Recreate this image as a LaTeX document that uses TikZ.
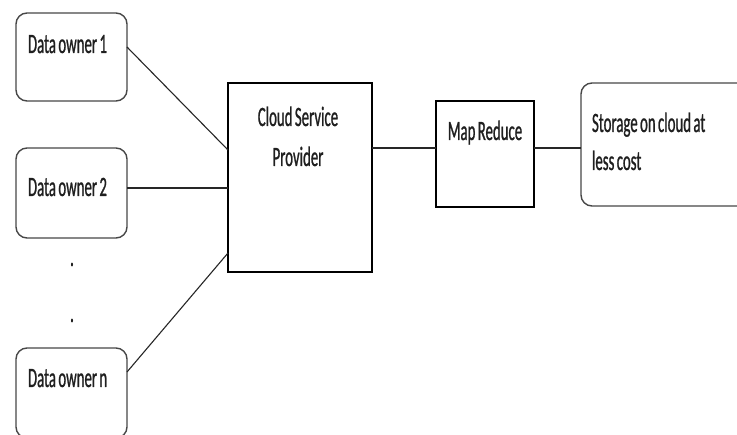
\documentclass[tikz,border=0pt]{standalone}
\usepackage{fontspec}
\newfontfamily\calfont[FakeStretch=0.53,WordSpace=0.7,FakeBold=0.8]{Carlito}
\begin{document}
\begin{tikzpicture}[x=1pt,y=-1pt,
  rbox/.style={draw=black!72, line width=1.4pt, rounded corners=11pt, fill=white, inner sep=0pt, outer sep=0pt},
  sbox/.style={draw=black, line width=1.2pt, fill=white, inner sep=0pt, outer sep=0pt},
  txt/.style={inner sep=0pt, outer sep=0pt, text=black!88, font=\calfont\fontsize{28}{40}\selectfont},
  conn/.style={draw=black!85, line width=1.1pt}]
\fill[white] (0,0) rectangle (737,435);
\useasboundingbox (0,0) rectangle (737,435);
\clip (0,0) rectangle (737,435);

% boxes
\node[rbox, minimum width=111pt, minimum height=88pt] (o1) at (71.5,57) {};
\node[rbox, minimum width=111pt, minimum height=90pt] (o2) at (71.5,193) {};
\node[rbox, minimum width=111pt, minimum height=90pt] (on) at (71.5,393) {};
\node[sbox, minimum width=144pt, minimum height=189pt] (csp) at (300,177.5) {};
\node[sbox, minimum width=98pt, minimum height=106pt] (mr) at (485,154) {};
\node[rbox, minimum width=180pt, minimum height=123pt] (st) at (671,144.5) {};

% texts
\node[txt, anchor=base west] (t1) at (28,53) {Data owner 1};
\node[txt, anchor=base west] (t2) at (28,196) {Data owner 2};
\node[txt, anchor=base west] (tn) at (28,387) {Data owner n};
\node[txt, anchor=base] (d1) at (72,266) {.};
\node[txt, anchor=base] (d2) at (72,322) {.};
\node[txt, anchor=base] (c1) at (298,126) {Cloud Service};
\node[txt, anchor=base] (c2) at (298,166) {Provider};
\node[txt, anchor=base] (m1) at (485,140) {Map Reduce};
\node[txt, anchor=base west] (s1) at (592,132) {Storage on cloud at};
\node[txt, anchor=base west] (s2) at (592,170) {less cost};

% connectors
\draw[conn] ([yshift=10pt]o1.east) -- ([yshift=27.5pt]csp.west);
\draw[conn] ([yshift=5pt]o2.east) -- ([yshift=5pt]o2.east -| csp.west);
\draw[conn] ([yshift=21pt]on.east) -- ([yshift=-75.5pt]csp.west);
\draw[conn] ([yshift=29.5pt]csp.east) -- ([yshift=29.5pt]csp.east -| mr.west);
\draw[conn] ([yshift=6pt]mr.east) -- ([yshift=6pt]mr.east -| st.west);
\end{tikzpicture}
\end{document}
